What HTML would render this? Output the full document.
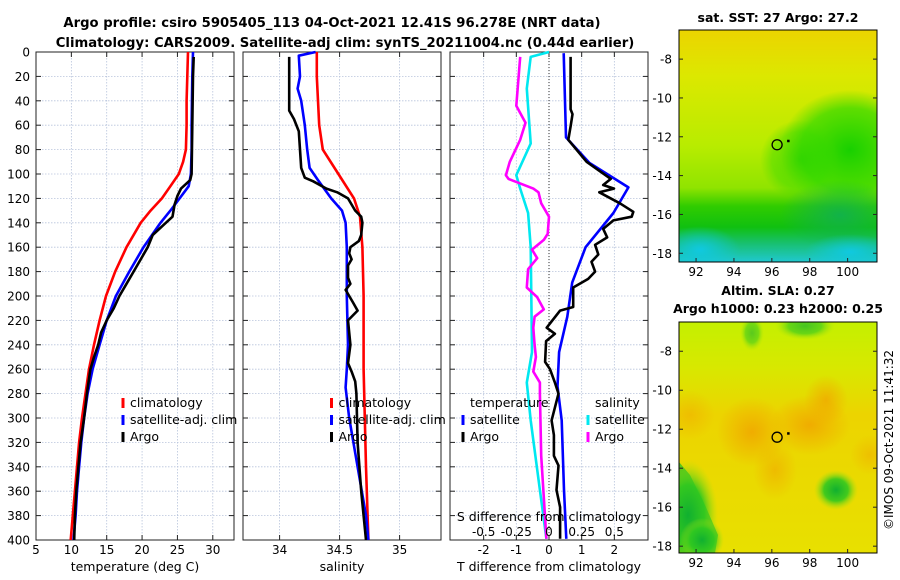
<!DOCTYPE html>
<html><head><meta charset="utf-8">
<style>
html,body{margin:0;padding:0;background:#fff;}
svg{display:block;font-family:"DejaVu Sans","Liberation Sans",sans-serif;}
</style></head>
<body>
<svg id="fig" width="900" height="580" xmlns="http://www.w3.org/2000/svg">
<defs>
 <linearGradient id="sstBase" x1="0" y1="30" x2="0" y2="262" gradientUnits="userSpaceOnUse">
  <stop offset="0" stop-color="#ecd400"/>
  <stop offset="0.2" stop-color="#dce800"/>
  <stop offset="0.5" stop-color="#b8ec00"/>
  <stop offset="0.68" stop-color="#90e400"/>
  <stop offset="0.76" stop-color="#30cc00"/>
  <stop offset="0.85" stop-color="#10c010"/>
  <stop offset="0.92" stop-color="#18c070"/>
  <stop offset="1" stop-color="#20c8d0"/>
 </linearGradient>
 <radialGradient id="sstGreen" cx="0.5" cy="0.5" r="0.5">
  <stop offset="0" stop-color="#18d000" stop-opacity="1"/>
  <stop offset="0.7" stop-color="#30d800" stop-opacity="0.7"/>
  <stop offset="1" stop-color="#40d800" stop-opacity="0"/>
 </radialGradient>
 <radialGradient id="sstDark" cx="0.5" cy="0.5" r="0.5">
  <stop offset="0" stop-color="#10b050" stop-opacity="0.9"/>
  <stop offset="1" stop-color="#10b050" stop-opacity="0"/>
 </radialGradient>
 <radialGradient id="sstCyan" cx="0.5" cy="0.5" r="0.5">
  <stop offset="0" stop-color="#10c8e0" stop-opacity="1"/>
  <stop offset="1" stop-color="#10c8e0" stop-opacity="0"/>
 </radialGradient>
 <linearGradient id="slaBase" x1="0" y1="322" x2="0" y2="553" gradientUnits="userSpaceOnUse">
  <stop offset="0" stop-color="#c4f000"/>
  <stop offset="0.2" stop-color="#d8e800"/>
  <stop offset="0.4" stop-color="#ecd400"/>
  <stop offset="1" stop-color="#e8e000"/>
 </linearGradient>
 <radialGradient id="slaOr" cx="0.5" cy="0.5" r="0.5">
  <stop offset="0" stop-color="#f0a800" stop-opacity="1"/>
  <stop offset="1" stop-color="#f0a800" stop-opacity="0"/>
 </radialGradient>
 <radialGradient id="slaGr" cx="0.5" cy="0.5" r="0.5">
  <stop offset="0" stop-color="#10b030" stop-opacity="1"/>
  <stop offset="0.55" stop-color="#30c820" stop-opacity="0.9"/>
  <stop offset="1" stop-color="#a8e010" stop-opacity="0"/>
 </radialGradient>
 <clipPath id="clipMap1"><rect x="679" y="30" width="198" height="232"/></clipPath>
 <clipPath id="clipMap2"><rect x="679" y="322" width="198" height="231"/></clipPath>
</defs>

<text x="332" y="27" text-anchor="middle" font-size="13.2" font-weight="bold">Argo profile: csiro 5905405_113 04-Oct-2021 12.41S 96.278E (NRT data)</text>
<text x="345" y="47" text-anchor="middle" font-size="13.2" font-weight="bold">Climatology: CARS2009. Satellite-adj clim: synTS_20211004.nc (0.44d earlier)</text>

<g id="p1"></g>
<g id="p2"></g>
<g id="p3"></g>

<text x="778" y="22" text-anchor="middle" font-size="12.5" font-weight="bold">sat. SST: 27 Argo: 27.2</text>
<g clip-path="url(#clipMap1)">
 <rect x="679" y="30" width="198" height="232" fill="url(#sstBase)"/>
 <ellipse cx="850" cy="150" rx="70" ry="60" fill="url(#sstGreen)"/>
 <ellipse cx="800" cy="160" rx="40" ry="40" fill="url(#sstGreen)" opacity="0.6"/>
 <ellipse cx="840" cy="215" rx="60" ry="35" fill="url(#sstDark)"/>
 <ellipse cx="700" cy="250" rx="40" ry="24" fill="url(#sstCyan)"/>
 <ellipse cx="850" cy="252" rx="45" ry="18" fill="url(#sstCyan)"/>
</g>
<rect x="679" y="30" width="198" height="232" fill="none" stroke="#000" stroke-width="1"/>
<g id="m1"></g>

<text x="778" y="295" text-anchor="middle" font-size="12.5" font-weight="bold">Altim. SLA: 0.27</text>
<text x="778" y="313" text-anchor="middle" font-size="12.5" font-weight="bold">Argo h1000: 0.23 h2000: 0.25</text>
<g clip-path="url(#clipMap2)">
 <rect x="679" y="322" width="198" height="231" fill="url(#slaBase)"/>
 <ellipse cx="752" cy="432" rx="35" ry="35" fill="url(#slaOr)" opacity="0.9"/>
 <ellipse cx="810" cy="425" rx="40" ry="30" fill="url(#slaOr)" opacity="0.9"/>
 <ellipse cx="826" cy="400" rx="22" ry="25" fill="url(#slaOr)" opacity="0.8"/>
 <ellipse cx="775" cy="470" rx="22" ry="30" fill="url(#slaOr)" opacity="0.6"/>
 <ellipse cx="690" cy="415" rx="25" ry="25" fill="url(#slaOr)" opacity="0.5"/>
 <ellipse cx="870" cy="455" rx="20" ry="20" fill="url(#slaOr)" opacity="0.5"/>
 <polygon points="679,462 690,475 705,505 718,535 715,553 679,553" fill="#30c020" opacity="0.85"/>
 <ellipse cx="688" cy="515" rx="30" ry="55" fill="url(#slaGr)"/>
 <ellipse cx="702" cy="540" rx="22" ry="22" fill="url(#slaGr)"/>
 <ellipse cx="836" cy="490" rx="22" ry="20" fill="url(#slaGr)"/>
 <ellipse cx="752" cy="333" rx="12" ry="18" fill="url(#slaGr)" opacity="0.6"/>
 <ellipse cx="805" cy="326" rx="30" ry="14" fill="url(#slaGr)" opacity="0.7"/>
</g>
<rect x="679" y="322" width="198" height="231" fill="none" stroke="#000" stroke-width="1"/>
<g id="m2"></g>

<text transform="translate(893,440) rotate(-90)" text-anchor="middle" font-size="12">©IMOS 09-Oct-2021 11:41:32</text>
</svg>

<script>
// ---------- data ----------
const depthTicks = [0,20,40,60,80,100,120,140,160,180,200,220,240,260,280,300,320,340,360,380,400];
const tempTicks = [5,10,15,20,25,30];
const salTicks = [34,34.5,35];
const salTickLabels = ["34","34.5","35"];
const tdiffTicks = [-2,-1,0,1,2];
const sdiffTicks = [-0.5,-0.25,0,0.25,0.5];
const sdiffTickLabels = ["-0.5","-0.25","0","0.25","0.5"];

const tClimDepth = [0,20,40,60,80,90,100,110,120,130,140,160,180,200,220,240,260,280,300,320,340,360,380,400];
const tClimVal   = [26.5,26.4,26.3,26.3,26.2,25.8,25.2,24.0,22.8,21.2,19.8,17.8,16.2,14.9,14.0,13.2,12.5,12.0,11.5,11.1,10.8,10.5,10.2,9.9];
const tSatDepth = [0,20,60,80,100,110,120,130,140,160,180,200,220,240,260,280,300,320,340,360,380,400];
const tSatVal   = [27.2,27.1,27.0,27.0,26.9,26.6,25.3,24.0,22.6,20.2,18.2,16.3,15.0,14.0,13.0,12.3,11.8,11.4,11.1,10.8,10.6,10.3];
const tArgoDepth = [4,20,60,100,105,112,118,125,135,142,150,160,170,180,190,200,210,220,230,240,250,260,280,300,320,340,360,380,400];
const tArgoVal   = [27.3,27.2,27.1,27.0,26.8,25.5,25.0,24.6,24.3,23.0,21.5,20.8,19.8,18.8,17.8,16.8,16.0,15.0,14.2,13.8,13.2,12.7,12.2,11.8,11.3,11.0,10.7,10.5,10.4];

const sClimDepth = [0,20,60,80,100,120,135,160,200,260,300,340,400];
const sClimVal   = [34.31,34.31,34.33,34.36,34.49,34.62,34.67,34.69,34.70,34.70,34.71,34.72,34.74];
const sSatDepth = [0,3,20,30,40,60,80,95,105,120,130,140,160,200,240,260,275,300,340,380,400];
const sSatVal   = [34.30,34.16,34.17,34.15,34.18,34.21,34.23,34.25,34.32,34.43,34.52,34.55,34.56,34.56,34.57,34.56,34.55,34.58,34.65,34.72,34.74];
const sArgoDepth = [4,48,55,65,80,95,103,106,112,115,120,130,135,140,150,155,160,165,170,175,185,190,195,205,212,220,240,255,262,270,280,320,360,400];
const sArgoVal   = [34.08,34.08,34.12,34.16,34.17,34.18,34.21,34.28,34.39,34.48,34.57,34.63,34.68,34.69,34.68,34.66,34.59,34.58,34.60,34.57,34.57,34.59,34.55,34.61,34.65,34.57,34.59,34.57,34.60,34.63,34.64,34.65,34.68,34.72];

const dtSatDepth = [1,70,91,111,132,160,189,217,246,274,302,359,399];
const dtSatVal   = [0.45,0.52,1.24,2.43,1.97,1.12,0.71,0.56,0.31,0.26,0.39,0.46,0.53];
const dtArgoDepth = [4,47,51,61,72,90,104,109,112,115,124,131,135,138,145,152,158,166,172,180,186,193,209,212,226,231,237,254,260,271,280,302,314,331,339,359,373,399];
const dtArgoVal   = [0.66,0.66,0.72,0.66,0.59,1.15,1.89,1.66,1.99,1.54,2.17,2.58,2.53,1.97,1.66,1.78,1.41,1.51,1.30,1.41,1.20,0.74,0.74,0.34,-0.07,0.18,-0.09,-0.12,0.03,0.18,0.29,0.08,0.15,0.15,0.29,0.23,0.34,0.34];
const dsSatDepth = [0,4,30,75,101,112,132,160,246,271,302,359,399];
const dsSatVal   = [0.0,-0.14,-0.17,-0.14,-0.25,-0.22,-0.16,-0.14,-0.13,-0.17,-0.14,-0.07,-0.02];
const dsArgoDepth = [4,44,50,58,72,90,101,104,112,115,124,135,149,154,162,169,178,193,201,211,217,226,240,250,262,271,280,331,399];
const dsArgoVal   = [-0.22,-0.25,-0.22,-0.18,-0.22,-0.30,-0.33,-0.31,-0.12,-0.08,-0.06,0.0,-0.01,-0.04,-0.13,-0.09,-0.16,-0.17,-0.09,-0.04,-0.11,-0.12,-0.11,-0.10,-0.12,-0.07,-0.07,-0.06,-0.02];

const lonTicks = [92,94,96,98,100];
const latTicks = [-8,-10,-12,-14,-16,-18];
const argoLon = [96.278];
const argoLat = [-12.41];

// ---------- helpers ----------
const NS="http://www.w3.org/2000/svg";
function mk(parent,tag,attrs,text){const e=document.createElementNS(NS,tag);for(const k in attrs)e.setAttribute(k,attrs[k]);if(text!==undefined)e.textContent=text;parent.appendChild(e);return e;}
const Y0=52, Y1=540;
const yD = d => Y0 + d*(Y1-Y0)/400;

function panel(g, x0, x1, xmin, xmax, xticks, xlabels){
  const sx = v => x0 + (v-xmin)*(x1-x0)/(xmax-xmin);
  depthTicks.forEach(d=>{ if(d>0&&d<400){ mk(g,'line',{x1:x0,x2:x1,y1:yD(d),y2:yD(d),stroke:'#b8c4dc','stroke-width':0.8,'stroke-dasharray':'1.5,1.5'}); }});
  xticks.forEach(v=>{ const x=sx(v); if(x>x0+1&&x<x1-1) mk(g,'line',{x1:x,x2:x,y1:Y0,y2:Y1,stroke:'#b8c4dc','stroke-width':0.8,'stroke-dasharray':'1.5,1.5'}); });
  depthTicks.forEach(d=>{ mk(g,'line',{x1:x0,x2:x0+5,y1:yD(d),y2:yD(d),stroke:'#222'}); mk(g,'line',{x1:x1-5,x2:x1,y1:yD(d),y2:yD(d),stroke:'#222'}); });
  xticks.forEach((v,i)=>{ const x=sx(v);
    mk(g,'line',{x1:x,x2:x,y1:Y1,y2:Y1-5,stroke:'#222'}); mk(g,'line',{x1:x,x2:x,y1:Y0,y2:Y0+5,stroke:'#222'});
    if(xlabels){ const t=mk(g,'text',{x:x,y:554,'text-anchor':'middle','font-size':12},xlabels[i]);
      
       }
  });
  mk(g,'rect',{x:x0,y:Y0,width:x1-x0,height:Y1-Y0,fill:'none',stroke:'#222','stroke-width':1});
  return sx;
}
function series(g, sx, depths, vals, color, name){
  const pts = depths.map((d,i)=>sx(vals[i]).toFixed(1)+','+yD(d).toFixed(1)).join(' ');
  const p = mk(g,'polyline',{points:pts,fill:'none',stroke:color,'stroke-width':2.6,'stroke-linejoin':'round'});
  
  
}
function legend(g, x, y, color, label, name){
  mk(g,'rect',{x:x-1.5,y:y-9,width:3,height:10,fill:color});
  const t = mk(g,'text',{x:x+7,y:y,'font-size':12.5},label);
  
  
}

// ---------- panel 1 ----------
const g1=document.getElementById('p1');
const sx1 = panel(g1,36,234,5,33,tempTicks,tempTicks.map(String));
depthTicks.forEach(d=>{ const t=mk(g1,'text',{x:30,y:yD(d)+4.5,'text-anchor':'end','font-size':12},String(d));
  
   });
series(g1,sx1,tClimDepth,tClimVal,'#ff0000','temp-climatology-line');
series(g1,sx1,tSatDepth,tSatVal,'#0000ff','temp-satellite-line');
series(g1,sx1,tArgoDepth,tArgoVal,'#000000','temp-argo-line');
legend(g1,123,407,'#ff0000','climatology','legend-climatology');
legend(g1,123,424,'#0000ff','satellite-adj. clim','legend-satellite');
legend(g1,123,441,'#000000','Argo','legend-argo');
{const t=mk(g1,'text',{x:135,y:571,'text-anchor':'middle','font-size':12.5},'temperature (deg C)');
  }

// ---------- panel 2 ----------
const g2=document.getElementById('p2');
const sx2 = panel(g2,243,441,33.695,35.345,salTicks,salTickLabels);
series(g2,sx2,sClimDepth,sClimVal,'#ff0000','sal-climatology-line');
series(g2,sx2,sSatDepth,sSatVal,'#0000ff','sal-satellite-line');
series(g2,sx2,sArgoDepth,sArgoVal,'#000000','sal-argo-line');
legend(g2,331.5,407,'#ff0000','climatology','legend-climatology');
legend(g2,331.5,424,'#0000ff','satellite-adj. clim','legend-satellite');
legend(g2,331.5,441,'#000000','Argo','legend-argo');
{const t=mk(g2,'text',{x:342,y:571,'text-anchor':'middle','font-size':12.5},'salinity');
  }

// ---------- panel 3 ----------
const g3=document.getElementById('p3');
const sx3 = panel(g3,450,648,-3.03,3.03,tdiffTicks,tdiffTicks.map(String));
mk(g3,'line',{x1:sx3(0),x2:sx3(0),y1:Y0,y2:Y1,stroke:'#333','stroke-width':1,'stroke-dasharray':'1,2'});
const sxS = v => sx3(v*4);
series(g3,sxS,dsSatDepth,dsSatVal,'#00e8f0','sdiff-satellite-line');
series(g3,sxS,dsArgoDepth,dsArgoVal,'#ff00ff','sdiff-argo-line');
series(g3,sx3,dtSatDepth,dtSatVal,'#0000ff','tdiff-satellite-line');
series(g3,sx3,dtArgoDepth,dtArgoVal,'#000000','tdiff-argo-line');
{const t=mk(g3,'text',{x:470,y:407,'font-size':12.5},'temperature');  }
{const t=mk(g3,'text',{x:595,y:407,'font-size':12.5},'salinity');  }
legend(g3,463,424,'#0000ff','satellite','legend-t-satellite');
legend(g3,463,441,'#000000','Argo','legend-t-argo');
legend(g3,588,424,'#00e8f0','satellite','legend-s-satellite');
legend(g3,588,441,'#ff00ff','Argo','legend-s-argo');
{const t=mk(g3,'text',{x:549,y:521,'text-anchor':'middle','font-size':12.5},'S difference from climatology');  }
sdiffTicks.forEach((v,i)=>{ const t=mk(g3,'text',{x:sxS(v),y:536,'text-anchor':'middle','font-size':12},sdiffTickLabels[i]);
    });
{const t=mk(g3,'text',{x:549,y:571,'text-anchor':'middle','font-size':12.5},'T difference from climatology');  }

// ---------- maps ----------
function mapAxes(gid, top, bottom, latTop, latBot, labY){
  const g=document.getElementById(gid);
  const sxm = lon => 679 + (lon-91.1)*(198/10.45);
  const sym = lat => top + (latTop-lat)*(bottom-top)/(latTop-latBot);
  lonTicks.forEach(l=>{ const x=sxm(l);
    mk(g,'line',{x1:x,x2:x,y1:bottom,y2:bottom-4,stroke:'#222'});
    const t=mk(g,'text',{x:x,y:labY,'text-anchor':'middle','font-size':12},String(l));
      });
  latTicks.forEach(l=>{ const y=sym(l);
    mk(g,'line',{x1:679,x2:683,y1:y,y2:y,stroke:'#222'});
    mk(g,'line',{x1:873,x2:877,y1:y,y2:y,stroke:'#222'});
    const t=mk(g,'text',{x:672,y:y+4.5,'text-anchor':'end','font-size':12},String(l));
      });
  argoLon.forEach((lo,i)=>{
    const c=mk(g,'circle',{cx:sxm(lo),cy:sym(argoLat[i]),r:5,fill:'none',stroke:'#000','stroke-width':1.3});
     
    mk(g,'rect',{x:sxm(lo)+10,y:sym(argoLat[i])-5,width:2.5,height:2.5,fill:'#000'});
  });
}
mapAxes('m1',30,262,-6.5,-18.45,276);
mapAxes('m2',322,553,-6.5,-18.35,567);
</script>
</body></html>
